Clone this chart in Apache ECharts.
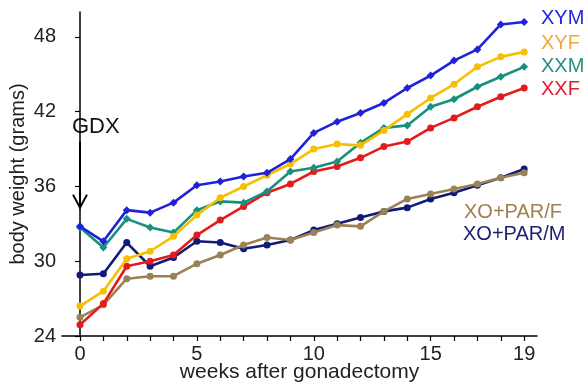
<!DOCTYPE html>
<html>
<head>
<meta charset="utf-8">
<script src="https://cdn.jsdelivr.net/npm/echarts@6/dist/echarts.min.js"></script>
<style>
html,body{margin:0;padding:0;background:#fff;}
#c{width:586px;height:387px;}
</style>
</head>
<body>
<div id="c"></div>
<script>
const weeks = [0,1,2,3,4,5,6,7,8,9,10,11,12,13,14,15,16,17,18,19];
const xTickLabels = [0,5,10,15,19];
const yTickLabels = [24,30,36,42,48];
const seriesNames = ['XYM','XYF','XXM','XXF','XO+PAR/F','XO+PAR/M'];
const XYM  = [32.8,31.6,34.1,33.9,34.7,36.1,36.4,36.8,37.1,38.2,40.3,41.2,41.9,42.7,43.9,44.9,46.1,47.0,49.0,49.2];
const XYF  = [26.4,27.6,30.2,30.8,32.0,33.7,35.1,36.0,36.9,37.8,39.0,39.4,39.3,40.5,41.8,43.1,44.2,45.6,46.4,46.8];
const XXM  = [32.7,31.1,33.4,32.7,32.3,34.1,34.8,34.7,35.6,37.2,37.5,38.0,39.5,40.7,40.9,42.4,43.0,44.0,44.8,45.6];
const XXF  = [24.9,26.6,29.6,30.0,30.5,32.1,33.3,34.4,35.5,36.2,37.2,37.6,38.3,39.2,39.6,40.7,41.5,42.4,43.2,43.9];
const PARF = [25.5,26.5,28.6,28.8,28.8,29.8,30.5,31.3,31.9,31.7,32.3,32.9,32.8,34.0,35.0,35.4,35.8,36.2,36.7,37.1];
const PARM = [28.9,29.0,31.5,29.6,30.3,31.6,31.5,31.0,31.3,31.7,32.5,33.0,33.5,34.0,34.3,35.0,35.5,36.1,36.7,37.4];
const gdxArrow = { week: 0, from: 39.6, to: 34.3 };

const values = [XYM, XYF, XXM, XXF, PARF, PARM];
const lineColors = ['#1f22d8','#f5c000','#17907e','#e21c1c','#9a8254','#121a78'];
const labelColors = ['#2525e0','#f0a838','#2a8f80','#e02030','#a08050','#1e1e6e'];
const symbols = ['diamond','circle','diamond','circle','circle','circle'];

const chart = echarts.init(document.getElementById('c'));
const FONT = 'Liberation Sans, Arial, sans-serif';

const series = values.map((v, i) => ({
  name: seriesNames[i],
  type: 'line',
  data: weeks.map((w, j) => [w, v[j]]),
  symbol: symbols[i],
  symbolSize: symbols[i] === 'diamond' ? 8 : 7,
  lineStyle: { color: lineColors[i], width: 2.6 },
  itemStyle: { color: lineColors[i] },
  z: 10 - i,
  animation: false
}));

chart.setOption({
  animation: false,
  grid: { left: 62, right: 49, top: 12, bottom: 51, containLabel: false, outerBoundsMode: 'none' },
  xAxis: {
    type: 'value',
    min: -0.77,
    max: 19.55,
    name: 'weeks after gonadectomy',
    nameLocation: 'middle',
    nameGap: 26,
    nameMoveOverlap: false,
    nameTextStyle: { fontSize: 21, color: '#222', fontFamily: FONT },
    axisLine: { show: true, onZero: false, lineStyle: { color: '#000', width: 1.5 } },
    axisTick: { show: true, length: 5, lineStyle: { color: '#000', width: 1.2 }, customValues: weeks },
    axisLabel: { fontSize: 20, color: '#222', fontFamily: FONT, margin: 8, customValues: xTickLabels },
    splitLine: { show: false }
  },
  yAxis: {
    type: 'value',
    min: 24,
    max: 50,
    name: 'body weight (grams)',
    nameLocation: 'middle',
    nameGap: 34,
    nameMoveOverlap: false,
    nameRotate: 90,
    nameTextStyle: { fontSize: 20, color: '#222', fontFamily: FONT },
    axisLine: { show: true, lineStyle: { color: '#000', width: 1.5 } },
    axisTick: { show: true, length: 5, lineStyle: { color: '#000', width: 1.2 }, customValues: yTickLabels },
    axisLabel: { fontSize: 20, color: '#222', fontFamily: FONT, margin: 6, customValues: yTickLabels },
    splitLine: { show: false }
  },
  series: series
});

const pTop = chart.convertToPixel({ gridIndex: 0 }, [gdxArrow.week, gdxArrow.from]);
const pTip = chart.convertToPixel({ gridIndex: 0 }, [gdxArrow.week, gdxArrow.to]);
chart.setOption({
  graphic: [
    { type: 'text', left: 541, top: 8, style: { text: 'XYM', fill: labelColors[0], font: '20px ' + FONT } },
    { type: 'text', left: 541, top: 33, style: { text: 'XYF', fill: labelColors[1], font: '20px ' + FONT } },
    { type: 'text', left: 541, top: 56, style: { text: 'XXM', fill: labelColors[2], font: '20px ' + FONT } },
    { type: 'text', left: 541, top: 79, style: { text: 'XXF', fill: labelColors[3], font: '20px ' + FONT } },
    { type: 'text', left: 464, top: 202, style: { text: 'XO+PAR/F', fill: labelColors[4], font: '20px ' + FONT } },
    { type: 'text', left: 463, top: 224, style: { text: 'XO+PAR/M', fill: labelColors[5], font: '20px ' + FONT } },
    { type: 'text', x: pTop[0] - 8, y: pTop[1] - 26, style: { text: 'GDX', fill: '#111', font: '22px ' + FONT } },
    { type: 'line', shape: { x1: pTop[0], y1: pTop[1], x2: pTip[0], y2: pTip[1] - 1 }, style: { stroke: '#000', lineWidth: 2 } },
    { type: 'polyline', shape: { points: [[pTip[0] - 7, pTip[1] - 13], [pTip[0], pTip[1]], [pTip[0] + 7, pTip[1] - 13]] }, style: { stroke: '#000', lineWidth: 2, fill: null } }
  ]
});
</script>
</body>
</html>
